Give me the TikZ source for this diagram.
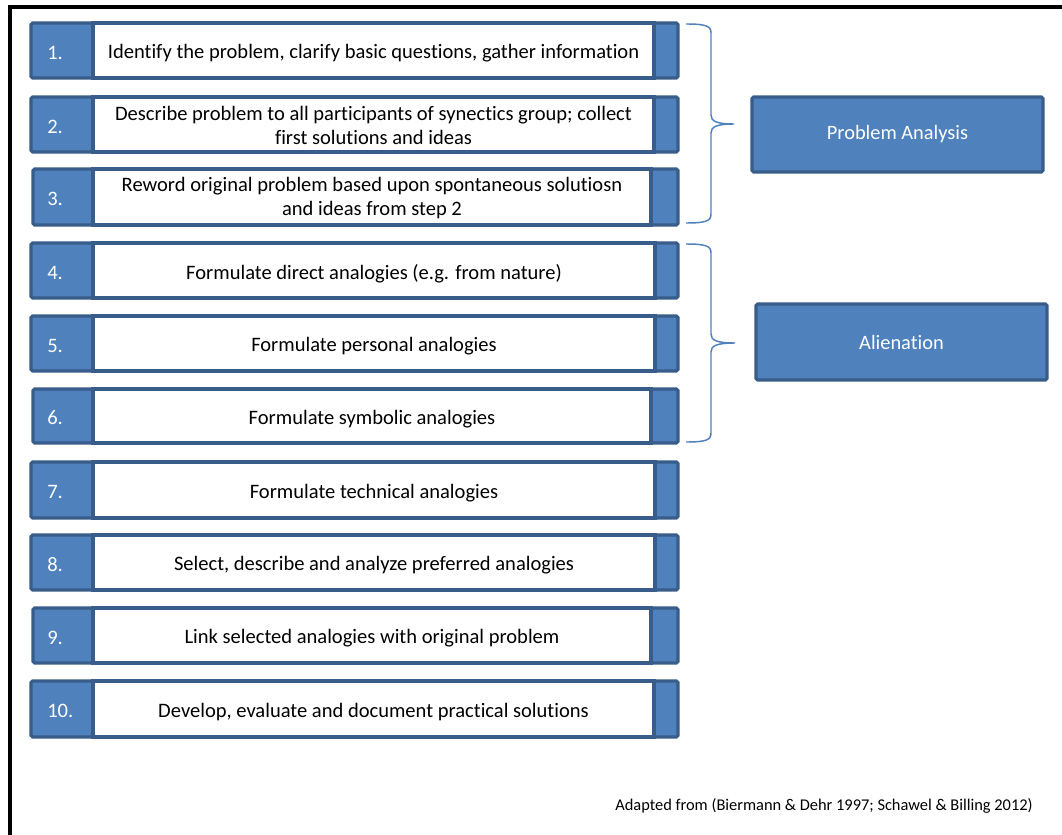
\documentclass[tikz,border=0pt]{standalone}
\usepackage{fontspec}
\setmainfont{Carlito}[Ligatures=NoCommon]
\begin{document}
\definecolor{accent}{HTML}{4F81BD}
\definecolor{accentdark}{HTML}{385D8A}
\begin{tikzpicture}[x=0.75pt,y=-0.75pt,
  rowframe/.style={draw=accentdark,fill=accent,line width=2.4pt,rounded corners=1.2pt},
  rowwhite/.style={draw=accentdark,fill=white,line width=2.4pt},
  numtext/.style={text=white,font=\fontsize{15.4}{18}\selectfont,anchor=west,inner sep=0pt},
  steptext/.style={text=black,font=\fontsize{15.4}{18}\selectfont,align=center,inner sep=0pt},
  phasebox/.style={draw=accentdark,fill=accent,line width=2.4pt,rounded corners=1.2pt,
    text=white,font=\fontsize{15.3}{18}\selectfont,inner sep=0pt},
  brace/.style={draw=accent,line width=1.1pt},
  frameline/.style={draw=black,line width=3pt}]
\useasboundingbox (0,0) rectangle (1062,834);
\clip (0,0) rectangle (1062,834);
\fill[white] (0,0) rectangle (1062,834);
% outer frame (only its top and left edges fall inside the page)
\draw[frameline] (10,860) -- (10,7) -- (1090,7);
% the ten steps: number / top / bottom / left edge / end of white field / text shift / text
\foreach \i/\t/\b/\l/\w/\dy/\txt in {
  1/23/78/31/654/3/{Identify the problem, clarify basic questions, gather information},
  2/97/152/31/654/1/{Describe problem to all participants of synectics group; collect\\first solutions and ideas},
  3/169/225/33/651/1/{Reword original problem based upon spontaneous solutiosn\\and ideas from step 2},
  4/243/298/31/655/3/{Formulate direct analogies (e.g. from nature)},
  5/316/371/31/655/3/{Formulate personal analogies},
  6/389/443/33/651/3/{Formulate symbolic analogies},
  7/462/518/31/655/3/{Formulate technical analogies},
  8/535/590/31/655/3/{Select, describe and analyze preferred analogies},
  9/608/663/33/651/3/{Link selected analogies with original problem},
  10/681/737/31/654/3/{Develop, evaluate and document practical solutions}} {
  \draw[rowframe] (\l,\t) rectangle (678,\b);
  \draw[rowwhite] (93,\t) rectangle (\w,\b);
  \node[numtext] (n\i) at (47,{(\t+\b)/2+2}) {\i.};
  \node[steptext] (s\i) at ({(93+\w)/2},{(\t+\b)/2+\dy}) {\txt};
}
% phase boxes
\node[phasebox,minimum width=218.25pt,minimum height=56.25pt] (pa) at (897.5,134.5) {Problem Analysis};
\node[phasebox,minimum width=218.25pt,minimum height=57pt] (al) at (901.5,342) {Alienation};
% braces grouping steps 1--3 and 4--6
\coordinate (pa top) at (686,24);
\coordinate (pa tip) at (734,124);
\coordinate (pa bot) at (686,223);
\coordinate (al top) at (686,244);
\coordinate (al tip) at (735,343);
\coordinate (al bot) at (686,442);
\draw[brace] (pa top) .. controls (706,24) and (711,26) .. (711,33) -- (711,115)
  .. controls (711,121) and (716,124) .. (pa tip)
  .. controls (716,124) and (711,127) .. (711,133) -- (711,214)
  .. controls (711,221) and (706,223) .. (pa bot);
\draw[brace] (al top) .. controls (706,244) and (711,246) .. (711,253) -- (711,334)
  .. controls (711,340) and (716,343) .. (al tip)
  .. controls (716,343) and (711,346) .. (711,352) -- (711,433)
  .. controls (711,440) and (706,442) .. (al bot);
% source note
\node[font=\fontsize{12.3}{14}\selectfont,inner sep=0pt] (src) at (824,806) {Adapted from (Biermann \& Dehr 1997; Schawel \& Billing 2012)};
\end{tikzpicture}
\end{document}
